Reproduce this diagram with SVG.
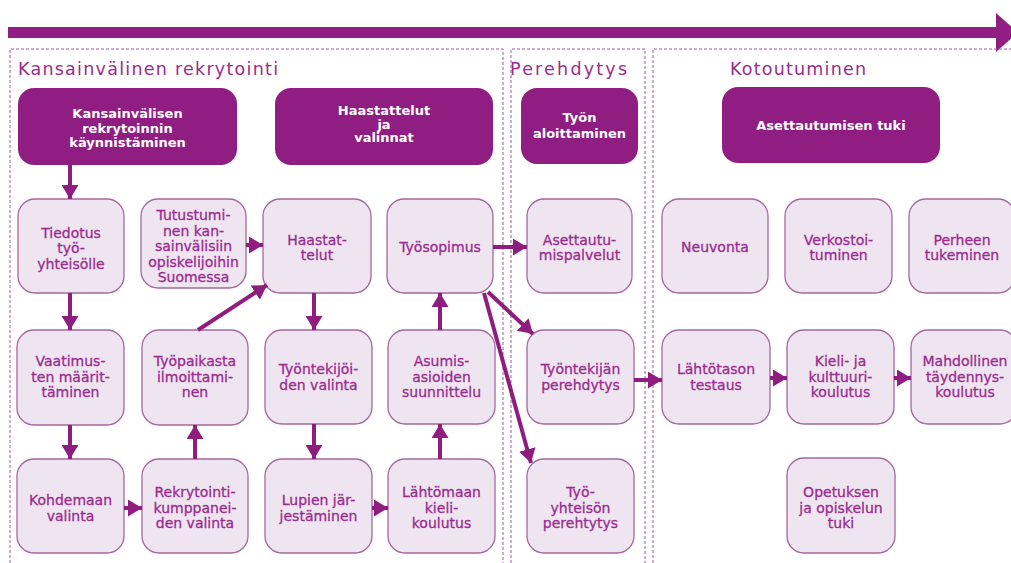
<svg xmlns="http://www.w3.org/2000/svg" width="1011" height="563" viewBox="0 0 1011 563">
<style>
.hdr{fill:#901e82;}
.box{fill:#efe5f1;stroke:#a468a0;stroke-width:1.3;}
.ht{font-family:"DejaVu Sans",sans-serif;font-size:13px;font-weight:bold;fill:#ffffff;text-anchor:middle;}
.bt{font-family:"DejaVu Sans",sans-serif;font-size:14px;fill:#9a2b8f;stroke:#9a2b8f;stroke-width:0.3;text-anchor:middle;}
.title{font-family:"DejaVu Sans",sans-serif;font-size:17.5px;fill:#9a2b8f;}
.sec{fill:none;stroke:#a05a9c;stroke-width:1;stroke-dasharray:3,2;}
.conn{stroke:#8f1d80;stroke-width:4;fill:none;marker-end:url(#ah);}
</style>
<defs>
<marker id="ah" markerUnits="userSpaceOnUse" markerWidth="14" markerHeight="17" refX="14" refY="8.5" orient="auto">
<path d="M0,0 L14,8.5 L0,17 z" fill="#8f1d80"/>
</marker>
</defs>
<rect width="1011" height="563" fill="#ffffff"/>
<g id="timeline">
<rect x="8" y="27" width="994" height="11" fill="#921e84"/>
<polygon points="996,13 1018,32.5 996,52" fill="#921e84"/>
</g>
<g id="sections">
<path class="sec" d="M10,563 V49 H503 V563 M511,563 V49 H645 V563 M653,563 V49 H1011"/>
<text class="title" x="18" y="75" textLength="260" lengthAdjust="spacing">Kansainvälinen rekrytointi</text>
<text class="title" x="510" y="75" textLength="117" lengthAdjust="spacing">Perehdytys</text>
<text class="title" x="730" y="75" textLength="136" lengthAdjust="spacing">Kotoutuminen</text>
</g>
<g id="h_kaynnistaminen"><rect class="hdr" x="18" y="88" width="219" height="77" rx="16"/>
<text class="ht"><tspan x="127.5" y="118">Kansainvälisen</tspan><tspan x="127.5" y="132.5">rekrytoinnin</tspan><tspan x="127.5" y="147">käynnistäminen</tspan></text></g>
<g id="h_haastattelut"><rect class="hdr" x="275" y="88" width="218" height="77" rx="16"/>
<text class="ht"><tspan x="384" y="115">Haastattelut</tspan><tspan x="384" y="128.5">ja</tspan><tspan x="384" y="142">valinnat</tspan></text></g>
<g id="h_tyon"><rect class="hdr" x="521" y="88" width="117" height="76" rx="16"/>
<text class="ht"><tspan x="579.5" y="122">Työn</tspan><tspan x="579.5" y="138">aloittaminen</tspan></text></g>
<g id="h_asettautumisen"><rect class="hdr" x="722" y="87" width="218" height="76" rx="16"/>
<text class="ht"><tspan x="831" y="130">Asettautumisen tuki</tspan></text></g>

<g id="n_tiedotus"><rect class="box" x="18" y="199" width="106" height="94" rx="17"/>
<text class="bt"><tspan x="71" y="237.5">Tiedotus</tspan><tspan x="71" y="253">työ-</tspan><tspan x="71" y="268.5">yhteisölle</tspan></text></g>
<g id="n_tutustuminen"><rect class="box" x="141" y="199" width="105" height="89" rx="17"/>
<text class="bt"><tspan x="193.5" y="220">Tutustumi-</tspan><tspan x="193.5" y="235.5">nen kan-</tspan><tspan x="193.5" y="251">sainvälisiin</tspan><tspan x="193.5" y="266.5">opiskelijoihin</tspan><tspan x="193.5" y="282">Suomessa</tspan></text></g>
<g id="n_haastattelut"><rect class="box" x="263" y="199" width="108" height="94" rx="17"/>
<text class="bt"><tspan x="317" y="245">Haastat-</tspan><tspan x="317" y="260">telut</tspan></text></g>
<g id="n_tyosopimus"><rect class="box" x="387" y="199" width="106" height="94" rx="17"/>
<text class="bt"><tspan x="440" y="252">Työsopimus</tspan></text></g>
<g id="n_asettautumispalvelut"><rect class="box" x="527" y="199" width="105" height="94" rx="17"/>
<text class="bt"><tspan x="579.5" y="245">Asettautu-</tspan><tspan x="579.5" y="260">mispalvelut</tspan></text></g>
<g id="n_neuvonta"><rect class="box" x="662" y="199" width="106" height="94" rx="17"/>
<text class="bt"><tspan x="715" y="252">Neuvonta</tspan></text></g>
<g id="n_verkostoituminen"><rect class="box" x="785" y="199" width="107" height="94" rx="17"/>
<text class="bt"><tspan x="838.5" y="245">Verkostoi-</tspan><tspan x="838.5" y="260">tuminen</tspan></text></g>
<g id="n_perheen"><rect class="box" x="909" y="199" width="106" height="94" rx="17"/>
<text class="bt"><tspan x="962" y="245">Perheen</tspan><tspan x="962" y="260">tukeminen</tspan></text></g>

<g id="n_vaatimusten"><rect class="box" x="17" y="330" width="107" height="95" rx="17"/>
<text class="bt"><tspan x="70.5" y="366">Vaatimus-</tspan><tspan x="70.5" y="381.5">ten määrit-</tspan><tspan x="70.5" y="397">täminen</tspan></text></g>
<g id="n_tyopaikasta"><rect class="box" x="142" y="330" width="106" height="95" rx="17"/>
<text class="bt"><tspan x="195" y="366">Työpaikasta</tspan><tspan x="195" y="381.5">ilmoittami-</tspan><tspan x="195" y="397">nen</tspan></text></g>
<g id="n_tyontekijoiden"><rect class="box" x="265" y="330" width="107" height="94" rx="17"/>
<text class="bt"><tspan x="318.5" y="374">Työntekijöi-</tspan><tspan x="318.5" y="389.5">den valinta</tspan></text></g>
<g id="n_asumis"><rect class="box" x="388" y="330" width="107" height="94" rx="17"/>
<text class="bt"><tspan x="441.5" y="366">Asumis-</tspan><tspan x="441.5" y="381.5">asioiden</tspan><tspan x="441.5" y="397">suunnittelu</tspan></text></g>
<g id="n_tyontekijan"><rect class="box" x="527" y="330" width="107" height="94" rx="17"/>
<text class="bt"><tspan x="580.5" y="374">Työntekijän</tspan><tspan x="580.5" y="389.5">perehdytys</tspan></text></g>
<g id="n_lahtotason"><rect class="box" x="662" y="330" width="108" height="94" rx="17"/>
<text class="bt"><tspan x="716" y="374">Lähtötason</tspan><tspan x="716" y="389.5">testaus</tspan></text></g>
<g id="n_kieli"><rect class="box" x="787" y="330" width="107" height="94" rx="17"/>
<text class="bt"><tspan x="840.5" y="366">Kieli- ja</tspan><tspan x="840.5" y="381.5">kulttuuri-</tspan><tspan x="840.5" y="397">koulutus</tspan></text></g>
<g id="n_mahdollinen"><rect class="box" x="911" y="330" width="106" height="94" rx="17"/>
<text class="bt"><tspan x="965" y="366">Mahdollinen</tspan><tspan x="965" y="381.5">täydennys-</tspan><tspan x="965" y="397">koulutus</tspan></text></g>

<g id="n_kohdemaan"><rect class="box" x="17" y="459" width="107" height="94" rx="17"/>
<text class="bt"><tspan x="70.5" y="505">Kohdemaan</tspan><tspan x="70.5" y="520.5">valinta</tspan></text></g>
<g id="n_rekrytointi"><rect class="box" x="142" y="459" width="106" height="94" rx="17"/>
<text class="bt"><tspan x="195" y="497">Rekrytointi-</tspan><tspan x="195" y="512.5">kumppanei-</tspan><tspan x="195" y="528">den valinta</tspan></text></g>
<g id="n_lupien"><rect class="box" x="265" y="459" width="107" height="94" rx="17"/>
<text class="bt"><tspan x="318.5" y="505">Lupien jär-</tspan><tspan x="318.5" y="520.5">jestäminen</tspan></text></g>
<g id="n_lahtomaan"><rect class="box" x="388" y="459" width="107" height="94" rx="17"/>
<text class="bt"><tspan x="441.5" y="497">Lähtömaan</tspan><tspan x="441.5" y="512.5">kieli-</tspan><tspan x="441.5" y="528">koulutus</tspan></text></g>
<g id="n_tyoyhteison"><rect class="box" x="527" y="459" width="107" height="94" rx="17"/>
<text class="bt"><tspan x="580.5" y="497">Työ-</tspan><tspan x="580.5" y="512.5">yhteisön</tspan><tspan x="580.5" y="528">perehtytys</tspan></text></g>
<g id="n_opetuksen"><rect class="box" x="787" y="458" width="108" height="95" rx="17"/>
<text class="bt"><tspan x="841" y="497">Opetuksen</tspan><tspan x="841" y="512.5">ja opiskelun</tspan><tspan x="841" y="528">tuki</tspan></text></g>

<g id="connectors">
<line class="conn" x1="70" y1="165" x2="70" y2="199"/>
<line class="conn" x1="70" y1="293" x2="70" y2="330"/>
<line class="conn" x1="70" y1="425" x2="70" y2="459"/>
<line class="conn" x1="124" y1="508" x2="142" y2="508"/>
<line class="conn" x1="195" y1="459" x2="195" y2="425"/>
<line class="conn" x1="198" y1="330" x2="267" y2="285"/>
<line class="conn" x1="246" y1="245" x2="263" y2="245"/>
<line class="conn" x1="314" y1="293" x2="314" y2="330"/>
<line class="conn" x1="314" y1="424" x2="314" y2="459"/>
<line class="conn" x1="372" y1="508" x2="388" y2="508"/>
<line class="conn" x1="440" y1="459" x2="440" y2="424"/>
<line class="conn" x1="440" y1="330" x2="440" y2="293"/>
<line class="conn" x1="493" y1="247" x2="527" y2="247"/>
<line class="conn" x1="488" y1="292" x2="533" y2="334"/>
<line class="conn" x1="484" y1="293" x2="531" y2="463"/>
<line class="conn" x1="634" y1="380" x2="662" y2="380"/>
<line class="conn" x1="770" y1="378" x2="787" y2="378"/>
<line class="conn" x1="894" y1="378" x2="911" y2="378"/>
</g>
</svg>
